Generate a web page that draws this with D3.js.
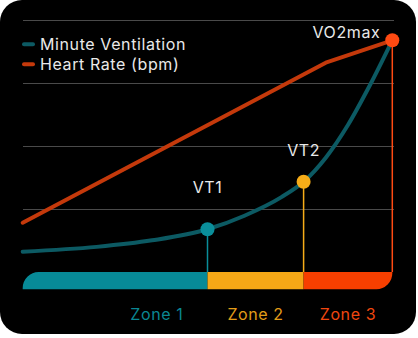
<!DOCTYPE html>
<html>
<head>
<meta charset="utf-8">
<script src="https://cdn.jsdelivr.net/npm/d3@7"></script>
<style>
  html, body { margin: 0; padding: 0; background: #ffffff; }
  svg { display: block; }
  text { font-family: Inter, "Noto Sans", sans-serif; font-size: 16px; letter-spacing: 0.6px; }
</style>
</head>
<body>
<svg id="chart" width="418" height="338"></svg>
<script>
// Exercise intensity (% of max) on x, relative response (% of max) on y
const mvX = [0, 20, 35, 50, 60, 70, 76, 82, 88, 94, 100];
const mvY = [8.1, 10.0, 12.6, 17.0, 22.4, 29.8, 35.9, 45.5, 58.5, 74.5, 92.2];
const hrX = [0, 82, 100];
const hrY = [19.6, 83.3, 92.2];

const thresholdNames = ["VT1", "VT2", "VO2max"];
const thresholdX = [50, 76, 100];
const thresholdY = [17.0, 35.9, 92.2];

const zoneNames = ["Zone 1", "Zone 2", "Zone 3"];
const zoneStart = [0, 50, 76];
const zoneEnd = [50, 76, 100];
const zoneLabelX = [36.3, 63, 88];

const gridValues = [25, 50, 75, 100];
const legendNames = ["Minute Ventilation", "Heart Rate (bpm)"];

const colors = {
  mv: "#0c5a63",
  hr: "#c4390b",
  zone: ["#078a97", "#f6a816", "#f73f00"],
  zoneText: ["#0a8793", "#e39d18", "#f0470f"],
  dot: ["#0a8e9a", "#f6ac18", "#ff4a12"],
  grid: "#4a4a4a",
  text: "#e9e9e9"
};

const svg = d3.select("#chart");

// card background
svg.append("rect")
  .attr("x", 0).attr("y", 0)
  .attr("width", 416).attr("height", 334)
  .attr("rx", 22).attr("ry", 22)
  .attr("fill", "#000");

const x = d3.scaleLinear().domain([0, 100]).range([22.7, 392.3]);
const y = d3.scaleLinear().domain([0, 100]).range([272, 20.7]);

// horizontal gridlines
svg.append("g").selectAll("line").data(gridValues).join("line")
  .attr("x1", x(0)).attr("x2", 394)
  .attr("y1", d => y(d)).attr("y2", d => y(d))
  .attr("stroke", colors.grid).attr("stroke-width", 1)
  .attr("shape-rendering", "crispEdges");

// zone bar: rounded outer corners on the first and last segments
const barTop = y(0), barH = 17.3, r = 16;
const zoneG = svg.append("g");
zoneStart.forEach((s, i) => {
  const x0 = x(s), x1 = x(zoneEnd[i]), y0 = barTop, y1 = barTop + barH;
  const p = d3.path();
  if (i === 0) {
    p.moveTo(x0, y1);
    p.lineTo(x0, y0 + r);
    p.arcTo(x0, y0, x0 + r, y0, r);
    p.lineTo(x1, y0); p.lineTo(x1, y1); p.closePath();
  } else if (i === zoneStart.length - 1) {
    p.moveTo(x0, y0); p.lineTo(x1, y0);
    p.lineTo(x1, y1 - r);
    p.arcTo(x1, y1, x1 - r, y1, r);
    p.lineTo(x0, y1); p.closePath();
  } else {
    p.rect(x0, y0, x1 - x0, y1 - y0);
  }
  zoneG.append("path").attr("d", p.toString()).attr("fill", colors.zone[i]);
});

// zone labels
svg.append("g").selectAll("text").data(zoneNames).join("text")
  .attr("x", (d, i) => x(zoneLabelX[i]))
  .attr("y", 320)
  .attr("text-anchor", "middle")
  .attr("fill", (d, i) => colors.zoneText[i])
  .text(d => d);

// threshold drop lines down to the zone bar
svg.append("g").selectAll("line").data(thresholdX).join("line")
  .attr("x1", d => x(d)).attr("x2", d => x(d))
  .attr("y1", (d, i) => y(thresholdY[i])).attr("y2", barTop)
  .attr("stroke", (d, i) => colors.dot[i])
  .attr("stroke-width", 1.5);

// heart rate line
svg.append("path")
  .datum(hrX.map((v, i) => [v, hrY[i]]))
  .attr("d", d3.line().x(d => x(d[0])).y(d => y(d[1])))
  .attr("fill", "none").attr("stroke", colors.hr)
  .attr("stroke-width", 4).attr("stroke-linecap", "round").attr("stroke-linejoin", "round");

// minute ventilation curve
svg.append("path")
  .datum(mvX.map((v, i) => [v, mvY[i]]))
  .attr("d", d3.line().x(d => x(d[0])).y(d => y(d[1])).curve(d3.curveMonotoneX))
  .attr("fill", "none").attr("stroke", colors.mv)
  .attr("stroke-width", 4).attr("stroke-linecap", "round");

// threshold dots
svg.append("g").selectAll("circle").data(thresholdX).join("circle")
  .attr("cx", d => x(d)).attr("cy", (d, i) => y(thresholdY[i]))
  .attr("r", 7)
  .attr("fill", (d, i) => colors.dot[i]);

// threshold labels
const labelLift = [36, 26, 2];
svg.append("g").selectAll("text").data(thresholdNames).join("text")
  .attr("x", (d, i) => i === 2 ? x(thresholdX[i]) - 12 : x(thresholdX[i]))
  .attr("y", (d, i) => y(thresholdY[i]) - labelLift[i])
  .attr("text-anchor", (d, i) => i === 2 ? "end" : "middle")
  .attr("fill", colors.text)
  .text(d => d);

// legend
const legend = svg.append("g");
legendNames.forEach((name, i) => {
  const ly = 44.3 + i * 20;
  legend.append("line")
    .attr("x1", 24).attr("x2", 33)
    .attr("y1", ly).attr("y2", ly)
    .attr("stroke", i === 0 ? colors.mv : colors.hr)
    .attr("stroke-width", 4).attr("stroke-linecap", "round");
  legend.append("text")
    .attr("x", 40).attr("y", ly + 5.8)
    .attr("fill", colors.text)
    .text(name);
});
</script>
</body>
</html>
